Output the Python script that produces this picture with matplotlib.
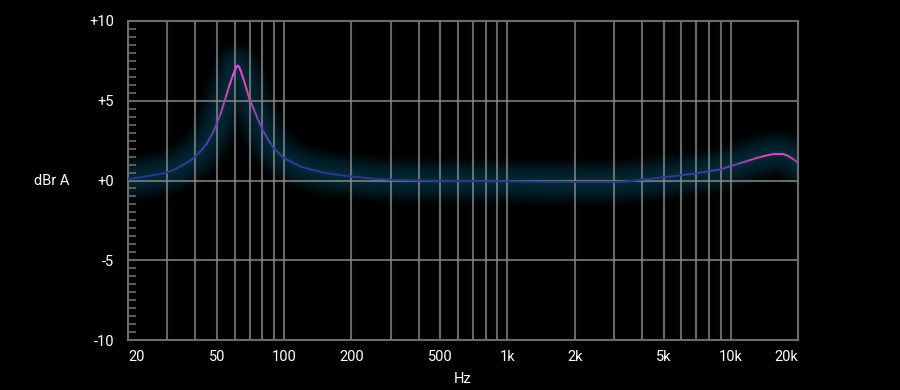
import numpy as np
import matplotlib.pyplot as plt
from matplotlib.collections import LineCollection
from matplotlib.colors import LinearSegmentedColormap
from matplotlib.ticker import FixedLocator, MultipleLocator, NullFormatter

plt.rcParams["font.family"] = ["Roboto", "DejaVu Sans"]

# frequency response
freq_hz = [20, 22, 25, 28, 30, 33, 35, 38, 40, 42, 45, 48, 50, 52, 55, 57, 59,
           60, 61, 62, 63, 64, 66, 68, 70, 73, 76, 80, 85, 90, 95, 100, 110,
           120, 135, 150, 175, 200, 250, 300, 400, 500, 700, 1000, 1500, 2000,
           2500, 3000, 3500, 4000, 5000, 6000, 7000, 8000, 9000, 10000, 11000,
           12000, 13000, 14000, 15000, 16000, 17000, 18000, 19000, 20000]
level_db = [0.1, 0.17, 0.3, 0.42, 0.5, 0.75, 0.95, 1.25, 1.5, 1.8, 2.3, 3.0,
            3.6, 4.2, 5.3, 6.0, 6.6, 6.85, 7.1, 7.2, 7.1, 6.85, 6.3, 5.7, 5.1,
            4.5, 3.9, 3.2, 2.55, 2.0, 1.7, 1.4, 1.1, 0.85, 0.65, 0.5, 0.35,
            0.25, 0.12, 0.05, 0.0, -0.02, -0.04, -0.05, -0.08, -0.1, -0.1,
            -0.1, -0.05, 0.05, 0.2, 0.33, 0.45, 0.58, 0.7, 0.9, 1.08, 1.25,
            1.4, 1.52, 1.62, 1.68, 1.68, 1.55, 1.35, 1.1]

x_ticks = [20, 50, 100, 200, 500, 1000, 2000, 5000, 10000, 20000]
x_labels = ["20", "50", "100", "200", "500", "1k", "2k", "5k", "10k", "20k"]
x_grid = [20, 30, 40, 50, 60, 70, 80, 90, 100, 200, 300, 400, 500, 600, 700,
          800, 900, 1000, 2000, 3000, 4000, 5000, 6000, 7000, 8000, 9000,
          10000, 20000]
y_ticks = [10, 5, 0, -5, -10]
y_labels = ["+10", "+5", "+0", "-5", "-10"]

grid_col = "#6c6c6c"

fig = plt.figure(figsize=(9, 3.9), dpi=100, facecolor="black")
ax = fig.add_axes([128 / 900, 1 - 340 / 390, 670 / 900, 319 / 390])
ax.set_facecolor("black")
ax.set_xscale("log")
ax.set_xlim(20, 20000)
ax.set_ylim(-10, 10)

f = np.array(freq_hz, dtype=float)
y = np.array(level_db, dtype=float)

# soft glow underneath: many thin layers so it fades smoothly
for lw in np.linspace(34, 3, 16):
    ax.plot(f, y, color="#0e88ad", lw=lw, alpha=0.028, solid_capstyle="round",
            solid_joinstyle="round", zorder=1)

# grid lines
for g in x_grid:
    ax.axvline(g, color="#8a8a8a", lw=1.5, alpha=0.75, zorder=2)
for g in [5, 0, -5]:
    ax.axhline(g, color="#8a8a8a", lw=1.5, alpha=0.75, zorder=2)

# gradient coloured line
cmap = LinearSegmentedColormap.from_list(
    "resp", ["#28368c", "#3e3ca0", "#7040c0", "#e0409c", "#ff40ff"])
pts = np.column_stack([f, y])
segs = np.stack([pts[:-1], pts[1:]], axis=1)
mid_y = (y[:-1] + y[1:]) / 2
mid_f = np.sqrt(f[:-1] * f[1:])
t = np.where(mid_f < 1000, mid_y / 7.2, mid_y / 1.95)
t = np.clip(t, 0, 1)
lc = LineCollection(segs, colors=cmap(t), linewidths=1.4, zorder=3,
                    capstyle="round", joinstyle="round")
ax.add_collection(lc)

for side in ["top", "right", "left", "bottom"]:
    ax.spines[side].set_color(grid_col)
    ax.spines[side].set_linewidth(1.5)

ax.xaxis.set_major_locator(FixedLocator(x_ticks))
ax.set_xticklabels(x_labels)
ax.xaxis.set_minor_formatter(NullFormatter())
ax.tick_params(axis="x", which="both", length=0, colors="white",
               labelsize=10.5, pad=7)
labels = ax.get_xticklabels()
labels[0].set_horizontalalignment("left")
labels[-1].set_horizontalalignment("right")

ax.set_yticks(y_ticks)
ax.set_yticklabels(y_labels)
ax.yaxis.set_minor_locator(MultipleLocator(0.5))
ax.tick_params(axis="y", which="major", length=0, colors="white",
               labelsize=10.5, pad=10)
ax.tick_params(axis="y", which="minor", length=6, width=1.2, direction="in",
               color=grid_col)

ax.set_xlabel("Hz", color="white", fontsize=10.5, labelpad=6)
fig.text(52 / 900, 1 - 181 / 390, "dBr A", color="white", fontsize=10.5,
         ha="center", va="center")

fig.savefig("out.png", dpi=100, facecolor="black")
